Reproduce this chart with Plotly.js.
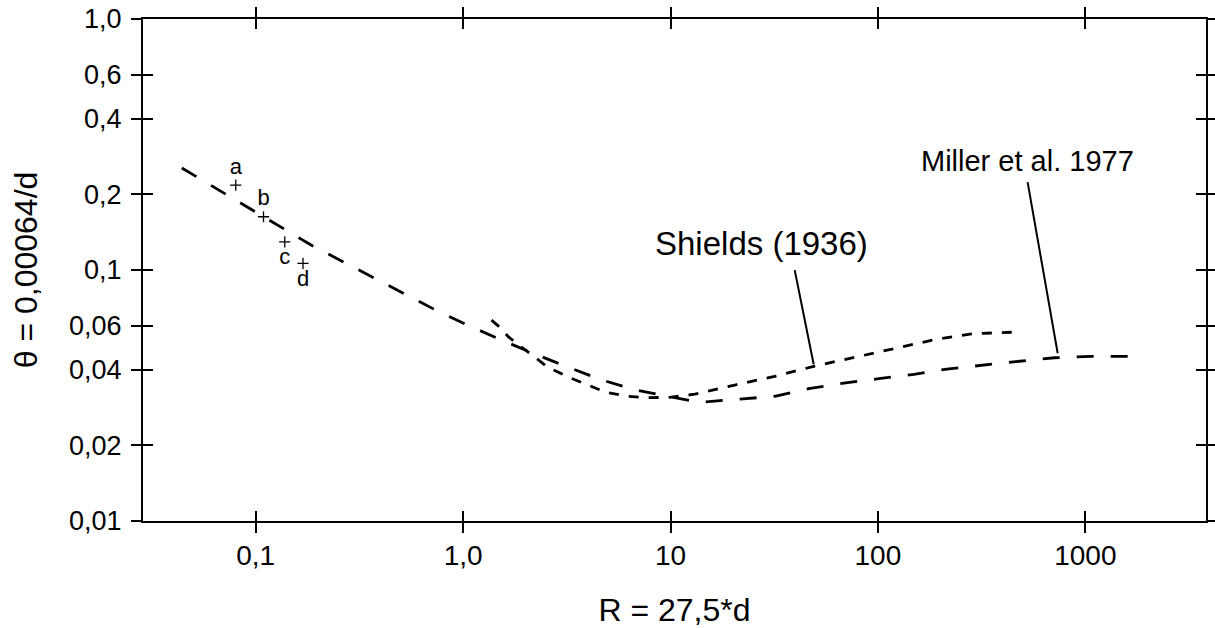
<!DOCTYPE html>
<html>
<head>
<meta charset="utf-8">
<script src="https://cdn.plot.ly/plotly-3.0.1.min.js"></script>
<style>html,body{margin:0;padding:0;background:#fff;}#chart{width:1215px;height:628px;}</style>
</head>
<body>
<div id="chart"></div>
<script>
// Miller et al. 1977 (long dashes)
var millerR = [0.044, 0.184, 0.738, 1.08, 1.54, 2.14, 3.16, 4.56, 6.72, 9.91, 13.8, 21.6, 31.8, 46.4, 68.4, 101, 149, 220, 324, 483, 712, 1060, 1780];
var millerTheta = [0.255, 0.126, 0.0692, 0.0597, 0.0525, 0.0468, 0.0412, 0.0367, 0.0333, 0.0313, 0.0297, 0.0306, 0.0314, 0.0337, 0.0354, 0.0369, 0.0384, 0.0404, 0.0419, 0.0433, 0.0447, 0.0453, 0.0453];

// Shields (1936) (short dashes)
var shieldsR = [1.37, 1.50, 1.66, 2.00, 2.56, 3.23, 3.99, 4.87, 6.15, 7.77, 9.91, 13.1, 20.4, 31.8, 49.6, 77.3, 121, 188, 283, 442];
var shieldsTheta = [0.0631, 0.0592, 0.0540, 0.0479, 0.0410, 0.0374, 0.0348, 0.0326, 0.0314, 0.0310, 0.0311, 0.0320, 0.0348, 0.0377, 0.0414, 0.0449, 0.0488, 0.0528, 0.0557, 0.0565];

// measured points a-d
var pointLabels = ["a", "b", "c", "d"];
var pointR = [0.0801, 0.109, 0.138, 0.169];
var pointTheta = [0.218, 0.163, 0.1295, 0.1062];
var pointLabelPos = ["top center", "top center", "bottom center", "bottom center"];

// leader lines (tail, head)
var shieldsLeaderR = [39.7, 49.0];
var shieldsLeaderTheta = [0.0999, 0.0421];
var millerLeaderR = [527, 736];
var millerLeaderTheta = [0.224, 0.0466];

// curve labels
var curveLabels = ["Shields (1936)", "Miller et al. 1977"];
var curveLabelR = [27.5, 527];
var curveLabelTheta = [0.128, 0.273];

// ticks
var xTickVals = [0.1, 1, 10, 100, 1000];
var xTickText = ["0,1", "1,0", "10", "100", "1000"];
var yTickVals = [0.01, 0.02, 0.04, 0.06, 0.1, 0.2, 0.4, 0.6, 1.0];
var yTickText = ["0,01", "0,02", "0,04", "0,06", "0,1", "0,2", "0,4", "0,6", "1,0"];

var FONT = "Liberation Sans, Arial, Helvetica, sans-serif";
var xRange = [-1.5436, 3.582];
var yRange = [-2, 0];

var traces = [
  {x: millerR, y: millerTheta, type: "scatter", mode: "lines", xaxis: "x", yaxis: "y",
   line: {color: "#000", width: 2.8, dash: "17px,17px"}, hoverinfo: "skip"},
  {x: shieldsR, y: shieldsTheta, type: "scatter", mode: "lines", xaxis: "x", yaxis: "y",
   line: {color: "#000", width: 2.8, dash: "10px,10px"}, hoverinfo: "skip"},
  {x: shieldsLeaderR, y: shieldsLeaderTheta, type: "scatter", mode: "lines", xaxis: "x", yaxis: "y",
   line: {color: "#000", width: 2}, hoverinfo: "skip"},
  {x: millerLeaderR, y: millerLeaderTheta, type: "scatter", mode: "lines", xaxis: "x", yaxis: "y",
   line: {color: "#000", width: 2}, hoverinfo: "skip"},
  {x: pointR, y: pointTheta, text: pointLabels, textposition: pointLabelPos,
   type: "scatter", mode: "markers+text", xaxis: "x2", yaxis: "y2",
   marker: {symbol: "cross-thin", size: 8, line: {color: "#000", width: 1.3}, color: "#000"},
   textfont: {family: FONT, size: 22, color: "#000"}, hoverinfo: "skip", cliponaxis: false}
];

var annotations = curveLabels.map(function (t, i) {
  return {x: Math.log10(curveLabelR[i]), y: Math.log10(curveLabelTheta[i]), xref: "x", yref: "y",
          text: t, showarrow: false, xanchor: "center", yanchor: "middle",
          font: {family: FONT, size: i === 0 ? 33 : 29, color: "#000"}};
});

var baseX = {type: "log", range: xRange, showgrid: false, zeroline: false,
  tickvals: xTickVals, ticktext: xTickText, tickcolor: "#000", tickwidth: 2, ticklen: 10,
  tickfont: {family: FONT, size: 28, color: "#000"}};
var baseY = {type: "log", range: yRange, showgrid: false, zeroline: false,
  tickvals: yTickVals, ticktext: yTickText, tickcolor: "#000", tickwidth: 2, ticklen: 10,
  tickfont: {family: FONT, size: 27, color: "#000"}};

var layout = {
  width: 1215, height: 628,
  margin: {l: 143, r: 9, t: 19, b: 107, pad: 0},
  paper_bgcolor: "#fff", plot_bgcolor: "#fff",
  showlegend: false,
  font: {family: FONT, color: "#000"},
  xaxis: Object.assign({}, baseX, {
    ticks: "outside", mirror: "allticks", showline: true, linecolor: "#000", linewidth: 2,
    ticklabelstandoff: -2,
    title: {text: "R = 27,5*d", font: {family: FONT, size: 32, color: "#000"}, standoff: 30}
  }),
  yaxis: Object.assign({}, baseY, {
    ticks: "outside", mirror: "allticks", showline: true, linecolor: "#000", linewidth: 2,
    ticklabelstandoff: 4,
    title: {text: "θ = 0,00064/d", font: {family: FONT, size: 32, color: "#000"}, standoff: 22}
  }),
  xaxis2: Object.assign({}, baseX, {
    overlaying: "x", anchor: "y2", side: "bottom", ticks: "inside", mirror: "allticks",
    showline: false, showticklabels: false
  }),
  yaxis2: Object.assign({}, baseY, {
    overlaying: "y", anchor: "x2", side: "left", ticks: "inside", mirror: "allticks",
    showline: false, showticklabels: false
  }),
  annotations: annotations
};

Plotly.newPlot("chart", traces, layout, {staticPlot: true, displayModeBar: false});
</script>
</body>
</html>
